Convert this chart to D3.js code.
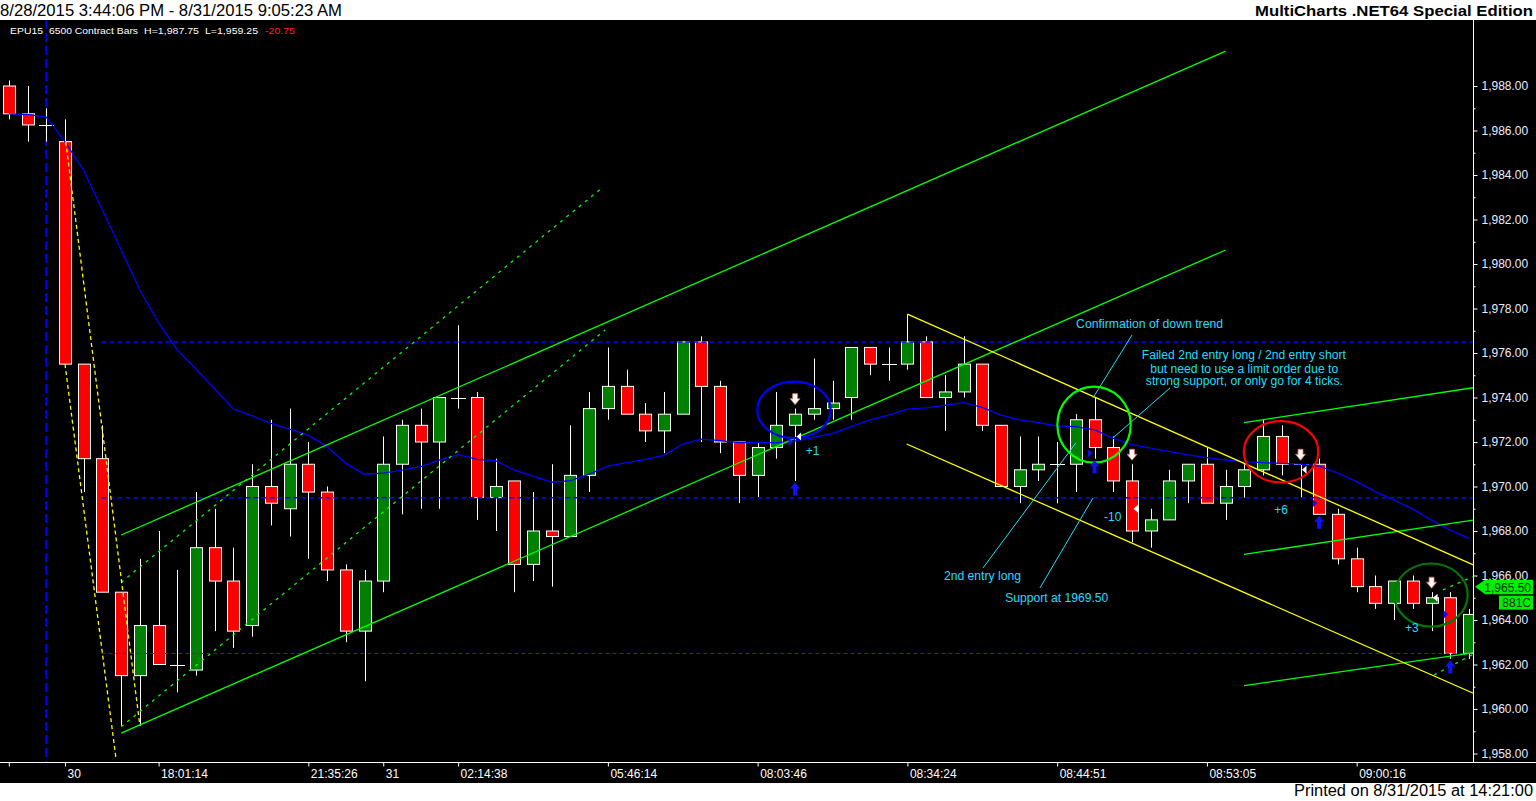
<!DOCTYPE html>
<html><head><meta charset="utf-8">
<script src="https://d3js.org/d3.v7.min.js"></script>
<style>
html,body{margin:0;padding:0;background:#fff;overflow:hidden}
svg{display:block}
text{font-family:"Liberation Sans",Arial,sans-serif}
</style></head>
<body>
<svg id="c" width="1536" height="801"></svg>
<script>
// ---------------- DATA ----------------
const barIdx = d3.range(79);
const openP  = [1988.0,1986.75,1986.25,1985.5,1975.5,1971.25,1965.25,1961.5,1963.75,1962.0,
  1961.75,1967.25,1965.75,1963.75,1970.0,1969.0,1971.0,1969.75,1966.25,1963.5,
  1965.75,1971.0,1972.75,1972.0,1974.0,1974.0,1969.5,1970.25,1966.5,1968.0,
  1967.75,1970.5,1973.5,1974.5,1973.25,1972.5,1973.25,1976.5,1974.5,1972.0,
  1970.5,1971.75,1972.75,1973.25,1973.5,1974.0,1976.25,1975.5,1975.5,1976.5,
  1974.0,1974.25,1975.5,1972.75,1970.0,1970.75,1971.0,1971.0,1973.0,1971.75,
  1970.25,1968.0,1968.5,1970.25,1971.0,1969.25,1970.0,1970.75,1972.25,1971.0,
  1971.0,1968.75,1966.75,1965.5,1964.75,1965.75,1964.75,1965.0,1962.5];
const highP  = [1988.25,1988.0,1987.0,1986.5,1975.5,1972.75,1965.25,1966.75,1968.0,1966.25,
  1969.75,1969.0,1967.25,1971.0,1973.0,1973.5,1972.0,1970.0,1966.5,1966.25,
  1972.25,1973.0,1973.5,1974.0,1977.25,1974.25,1971.25,1970.25,1969.75,1971.0,
  1972.75,1974.25,1976.25,1975.25,1973.75,1974.25,1976.5,1976.75,1974.75,1972.0,
  1972.0,1974.25,1973.5,1975.75,1974.75,1976.25,1976.25,1976.25,1977.75,1976.75,
  1975.0,1976.75,1975.5,1972.75,1972.25,1972.25,1972.0,1973.25,1974.0,1972.25,
  1971.0,1969.0,1970.75,1971.0,1971.75,1970.75,1971.0,1973.0,1972.75,1971.0,
  1971.25,1969.0,1967.25,1966.0,1965.75,1966.0,1965.25,1965.25,1964.5];
const lowP   = [1986.5,1985.5,1985.5,1975.5,1969.75,1965.25,1959.25,1959.25,1962.0,1960.75,
  1961.5,1963.5,1962.75,1963.25,1968.25,1967.75,1966.75,1965.75,1963.0,1961.25,
  1965.25,1968.75,1969.0,1969.0,1973.5,1968.5,1968.0,1965.25,1965.75,1965.5,
  1967.75,1969.75,1973.0,1973.25,1972.0,1971.5,1973.25,1972.0,1971.5,1969.25,
  1969.5,1971.25,1970.25,1973.0,1973.0,1973.0,1975.0,1974.75,1975.25,1974.0,
  1972.5,1974.0,1972.5,1970.0,1969.25,1970.25,1969.25,1969.75,1971.25,1969.75,
  1967.5,1967.25,1968.5,1969.25,1969.25,1968.5,1969.5,1970.5,1970.5,1969.5,
  1968.75,1966.5,1965.25,1964.5,1964.0,1964.5,1963.5,1962.25,1962.25];
const closeP = [1986.75,1986.25,1986.25,1975.5,1971.25,1965.25,1961.5,1963.75,1962.0,1962.0,
  1967.25,1965.75,1963.5,1970.0,1969.25,1971.0,1969.75,1966.25,1963.5,1965.75,
  1971.0,1972.75,1972.0,1974.0,1974.0,1969.5,1970.0,1966.5,1968.0,1967.75,
  1970.5,1973.5,1974.5,1973.25,1972.5,1973.25,1976.5,1974.5,1972.0,1970.5,
  1971.75,1972.75,1973.25,1973.5,1973.75,1976.25,1975.5,1975.5,1976.5,1974.0,
  1974.25,1975.5,1972.75,1970.0,1970.75,1971.0,1971.0,1973.0,1971.75,1970.25,
  1968.0,1968.5,1970.25,1971.0,1969.25,1970.0,1970.75,1972.25,1971.0,1971.0,
  1968.75,1966.75,1965.5,1964.75,1965.75,1964.75,1965.0,1962.5,1964.25];
const maP = [1986.75,1986.72,1986.6,1985.5,1984.2,1982.43,1980.63,1978.83,1977.35,1976.13,
  1975.28,1974.38,1973.48,1973.17,1972.84,1972.58,1972.31,1971.79,1971.04,1970.55,
  1970.6,1970.74,1970.89,1971.19,1971.43,1971.22,1971.16,1970.74,1970.47,1970.19,
  1970.26,1970.56,1970.92,1971.07,1971.22,1971.4,1971.91,1972.13,1972.06,1971.97,
  1971.97,1971.97,1972.04,1972.21,1972.39,1972.69,1972.99,1973.21,1973.48,1973.53,
  1973.65,1973.77,1973.56,1973.21,1972.99,1972.87,1972.72,1972.69,1972.54,1972.16,
  1971.88,1971.72,1971.57,1971.42,1971.3,1971.19,1971.12,1971.07,1971.04,1971.01,
  1970.92,1970.6,1970.22,1969.77,1969.39,1968.98,1968.49,1968.04,1967.67];

const tickIdx    = [0,3,8,16,20,24,32,40,48,56,64,72];
const tickLabels = ["","30","18:01:14","21:35:26","31","02:14:38","05:46:14","08:03:46","08:34:24","08:44:51","08:53:05","09:00:16"];
const priceTicks = d3.range(1958, 1989, 2);
const minorTicks = d3.range(1959, 1989, 2);

const levelPrices = [1976.5, 1969.5];
const dimLevelPrices = [1962.5];
const levelStartIdx = 5;
const sessionBreakIdx = 2;
const lastPrice = 1965.5;
const lastVolume = "881C";

// drawn objects, anchored in (bar index, price)
const greenLines   = [[6,1967.82,65,1989.57],[6,1958.92,65,1980.63],[65.98,1972.87,78.3,1974.45],[65.98,1966.95,78.3,1968.5],[65.98,1961.05,78.3,1962.53]];
const greenDashed  = [[6,1965.69,31.74,1983.46],[6,1959.2,31.85,1977.03],[76.13,1961.53,78.2,1962.45],[76.61,1965.35,78.2,1965.95]];
const yellowLines  = [[48.0,1977.75,78.3,1966.45],[47.96,1971.91,78.3,1960.68]];
const yellowDashed = [[3.04,1985.5,7.0,1959.25],[3.0,1975.5,5.72,1957.8]];
const cyanLines    = [[52.04,1966.34,57.0,1971.96],[55.08,1965.44,57.91,1969.48],[60.0,1976.81,57.91,1973.98],[62.03,1974.43,58.98,1972.18]];

const circleIdx   = [41.94, 57.97, 67.96, 75.97];
const circlePrice = [1973.44, 1972.78, 1971.56, 1965.12];
const circleRBars = [1.96, 1.96, 1.99, 1.96];
const circleRPts  = [1.27, 1.71, 1.38, 1.42];

const upArrowIdx   = [42, 58, 70, 77];
const downArrowIdx = [42, 60, 69, 76];
const blueTriIdx   = [42, 58, 70, 77];
const blueTriPrice = [1972.0, 1971.5, 1969.25, 1964.25];
const whiteTriIdx   = [42, 60, 69, 76];
const whiteTriPrice = [1972.25, 1969.0, 1970.75, 1965.0];

const profitText  = ["+1", "-10", "+6", "+3"];
const profitIdx   = [42.94, 58.97, 67.96, 74.95];
const profitPrice = [1971.42, 1968.45, 1968.76, 1963.47];

const noteText  = ["Confirmation of down trend","Failed 2nd entry long / 2nd entry short","but need to use a limit order due to","strong support, or only go for 4 ticks.","2nd entry long","Support at 1969.50"];
const noteIdx   = [60.94, 65.97, 65.99, 66.0, 52.01, 55.98];
const notePrice = [1977.11, 1975.72, 1975.09, 1974.56, 1965.8, 1964.82];
const noteLen   = [147, 204, 188, 197, 77, 103];

// ---------------- LAYOUT ----------------
const W = 1536, H = 801, plotTop = 20, plotBottom = 762, axisX = 1473, blackBottom = 783;
const x = d3.scaleLinear().domain([0, 78]).range([8.84, 1469.0]);
const y = d3.scaleLinear().domain([1958, 1988]).range([753.5, 86]);
const CYAN = "#22dcff";

const svg = d3.select("#c");
svg.append("rect").attr("width", W).attr("height", H).attr("fill", "#fff");
svg.append("rect").attr("x", 0).attr("y", plotTop).attr("width", W).attr("height", blackBottom - plotTop).attr("fill", "#000");

svg.append("text").attr("x", 0).attr("y", 16).attr("font-size", 17).attr("fill", "#000")
  .attr("textLength", 342).attr("lengthAdjust", "spacingAndGlyphs")
  .text("8/28/2015 3:44:06 PM - 8/31/2015 9:05:23 AM");
svg.append("text").attr("x", 1255).attr("y", 16).attr("font-size", 15).attr("font-weight", "bold").attr("fill", "#000")
  .attr("textLength", 278).attr("lengthAdjust", "spacingAndGlyphs")
  .text("MultiCharts .NET64 Special Edition");
svg.append("text").attr("x", 1294).attr("y", 796).attr("font-size", 16).attr("fill", "#000")
  .attr("textLength", 239).attr("lengthAdjust", "spacingAndGlyphs")
  .text("Printed on 8/31/2015 at 14:21:00");

svg.append("clipPath").attr("id", "plotclip").append("rect")
  .attr("x", 0).attr("y", plotTop).attr("width", axisX).attr("height", plotBottom - plotTop);
const g = svg.append("g").attr("clip-path", "url(#plotclip)");

// session break
g.append("line").attr("x1", x(sessionBreakIdx)).attr("x2", x(sessionBreakIdx))
  .attr("y1", plotTop).attr("y2", plotBottom).attr("stroke", "#0000ff").attr("stroke-width", 2)
  .attr("stroke-dasharray", "9,4");

// candles
const bars = barIdx.map(i => ({i, o: openP[i], h: highP[i], l: lowP[i], c: closeP[i]}));
const cg = g.append("g");
cg.selectAll("line.wick").data(bars).join("line").attr("class", "wick")
  .attr("x1", d => Math.round(x(d.i)) + 0.5).attr("x2", d => Math.round(x(d.i)) + 0.5)
  .attr("y1", d => y(d.h)).attr("y2", d => y(d.l)).attr("stroke", "#fff").attr("stroke-width", 1);
cg.selectAll("rect.body").data(bars.filter(d => d.o !== d.c)).join("rect").attr("class", "body")
  .attr("x", d => Math.round(x(d.i)) - 5.5).attr("width", 12)
  .attr("y", d => y(Math.max(d.o, d.c))).attr("height", d => Math.abs(y(d.o) - y(d.c)))
  .attr("fill", d => d.c > d.o ? "#008000" : "#ff0000").attr("stroke", "#fff").attr("stroke-width", 1);
cg.selectAll("line.doji").data(bars.filter(d => d.o === d.c)).join("line").attr("class", "doji")
  .attr("x1", d => Math.round(x(d.i)) - 7).attr("x2", d => Math.round(x(d.i)) + 8)
  .attr("y1", d => Math.round(y(d.c)) + 0.5).attr("y2", d => Math.round(y(d.c)) + 0.5)
  .attr("stroke", "#fff").attr("stroke-width", 1);

// level lines
g.selectAll("line.lvl").data(levelPrices).join("line").attr("class", "lvl")
  .attr("x1", x(levelStartIdx) - 1).attr("x2", axisX).attr("y1", d => y(d)).attr("y2", d => y(d))
  .attr("stroke", "#0000ff").attr("stroke-width", 1.5).attr("stroke-dasharray", "5,3");
g.selectAll("line.dlvl").data(dimLevelPrices).join("line").attr("class", "dlvl")
  .attr("x1", x(levelStartIdx) - 1).attr("x2", axisX).attr("y1", d => y(d)).attr("y2", d => y(d))
  .attr("stroke", "#30309a").attr("stroke-width", 1).attr("stroke-dasharray", "4,3");

// moving average
g.append("path").datum(barIdx)
  .attr("d", d3.line().x(i => x(i)).y(i => y(maP[i])))
  .attr("fill", "none").attr("stroke", "#0000ff").attr("stroke-width", 1.3);

// trend lines
function drawLines(arr, color, width, dash) {
  g.append("g").selectAll("line").data(arr).join("line")
    .attr("x1", d => x(d[0])).attr("y1", d => y(d[1])).attr("x2", d => x(d[2])).attr("y2", d => y(d[3]))
    .attr("stroke", color).attr("stroke-width", width).attr("stroke-dasharray", dash || null);
}
drawLines(greenLines, "#00ff00", 1.3);
drawLines(greenDashed, "#00ff00", 1.3, "3,5");
drawLines(yellowLines, "#ffff00", 1.3);
drawLines(yellowDashed, "#ffff00", 1.3, "4,3");
drawLines(cyanLines, CYAN, 1);

// circles
const circleColors = ["#0000ff", "#00ff00", "#ff0000", "#007800"];
g.append("g").selectAll("ellipse").data(circleIdx.map((v, k) => k)).join("ellipse")
  .attr("cx", k => x(circleIdx[k])).attr("cy", k => y(circlePrice[k]))
  .attr("rx", k => x(circleRBars[k]) - x(0)).attr("ry", k => y(1958) - y(1958 + circleRPts[k]))
  .attr("fill", "none").attr("stroke", (k) => circleColors[k]).attr("stroke-width", 2.2);

// trade markers
const mg = g.append("g");
mg.selectAll("path.up").data(upArrowIdx).join("path").attr("class", "up")
  .attr("d", i => { const cx = x(i), t = y(lowP[i]) + 1.5;
    return `M${cx},${t}L${cx+5},${t+6}L${cx+2},${t+6}L${cx+2},${t+13}L${cx-2},${t+13}L${cx-2},${t+6}L${cx-5},${t+6}Z`; })
  .attr("fill", "#1010ff");
mg.selectAll("path.down").data(downArrowIdx).join("path").attr("class", "down")
  .attr("d", i => { const cx = x(i), b = y(highP[i]) - 4;
    return `M${cx},${b}L${cx-5},${b-6}L${cx-2.5},${b-6}L${cx-2.5},${b-11}L${cx+2.5},${b-11}L${cx+2.5},${b-6}L${cx+5},${b-6}Z`; })
  .attr("fill", "#fff6f6").attr("stroke", "#d07070").attr("stroke-width", 0.8);
mg.selectAll("path.btri").data(blueTriIdx.map((v, k) => k)).join("path").attr("class", "btri")
  .attr("d", k => { const cx = x(blueTriIdx[k]), cy = y(blueTriPrice[k]);
    return `M${cx-6.5},${cy-4}L${cx-2},${cy}L${cx-6.5},${cy+4}Z`; })
  .attr("fill", "#1010ff");
mg.selectAll("path.wtri").data(whiteTriIdx.map((v, k) => k)).join("path").attr("class", "wtri")
  .attr("d", k => { const cx = x(whiteTriIdx[k]), cy = y(whiteTriPrice[k]);
    return `M${cx+6},${cy-4}L${cx+1.5},${cy}L${cx+6},${cy+4}Z`; })
  .attr("fill", "#ffffff");

mg.selectAll("text.pr").data(profitText.map((v, k) => k)).join("text").attr("class", "pr")
  .attr("x", k => x(profitIdx[k])).attr("y", k => y(profitPrice[k]))
  .attr("text-anchor", "middle").attr("font-size", 12).attr("fill", CYAN).text(k => profitText[k]);

g.append("g").selectAll("text").data(noteText.map((v, k) => k)).join("text")
  .attr("x", k => x(noteIdx[k]) - noteLen[k] / 2).attr("y", k => y(notePrice[k]))
  .attr("font-size", 12).attr("fill", CYAN)
  .attr("textLength", k => noteLen[k]).attr("lengthAdjust", "spacingAndGlyphs")
  .text(k => noteText[k]);

// ---------------- AXES ----------------
svg.append("line").attr("x1", 0).attr("x2", W).attr("y1", plotBottom + 0.5).attr("y2", plotBottom + 0.5)
  .attr("stroke", "#fff").attr("stroke-width", 1);
svg.append("line").attr("x1", axisX + 0.5).attr("x2", axisX + 0.5).attr("y1", plotTop).attr("y2", plotBottom)
  .attr("stroke", "#fff").attr("stroke-width", 1);

const yAx = svg.append("g").attr("transform", `translate(${axisX + 0.5},0)`)
  .call(d3.axisRight(y).tickValues(priceTicks).tickFormat(d3.format(",.2f")).tickSize(4).tickPadding(4));
const yMinor = svg.append("g").attr("transform", `translate(${axisX + 0.5},0)`)
  .call(d3.axisRight(y).tickValues(minorTicks).tickFormat("").tickSize(2));
[yAx, yMinor].forEach(a => {
  a.select(".domain").remove();
  a.selectAll("line").attr("stroke", "#fff");
  a.selectAll("text").attr("fill", "#e8ecff").attr("font-size", 12)
    .attr("font-family", '"Liberation Sans",Arial,sans-serif');
});

const xAx = svg.append("g").attr("transform", `translate(0,${plotBottom + 0.5})`)
  .call(d3.axisBottom(x).tickValues(tickIdx).tickFormat((d, k) => tickLabels[k]).tickSize(4).tickPadding(3));
xAx.select(".domain").remove();
xAx.selectAll("line").attr("stroke", "#fff");
xAx.selectAll("text").attr("fill", "#fff").attr("font-size", 12).attr("text-anchor", "start").attr("x", 2)
  .attr("font-family", '"Liberation Sans",Arial,sans-serif');

// last price marker
const ly = y(lastPrice);
svg.append("path").attr("d", `M${axisX + 2},${ly}L${axisX + 12},${ly - 7}L1533,${ly - 7}L1533,${ly + 7.5}L${axisX + 12},${ly + 7.5}Z`)
  .attr("fill", "#00ee00");
svg.append("text").attr("x", 1531).attr("y", ly + 5).attr("text-anchor", "end").attr("font-size", 12)
  .attr("fill", "#003000").text(d3.format(",.2f")(lastPrice));
svg.append("rect").attr("x", 1499).attr("y", ly + 9).attr("width", 34).attr("height", 14).attr("fill", "#00ee00");
svg.append("text").attr("x", 1531).attr("y", ly + 20.5).attr("text-anchor", "end").attr("font-size", 12)
  .attr("fill", "#003000").text(lastVolume);

// legend
const lg = svg.append("g").attr("font-size", 9);
const legendParts = [["EPU15", 10, 33, "#fff"], ["6500 Contract Bars", 49, 89, "#fff"],
  ["H=1,987.75", 144, 55, "#fff"], ["L=1,959.25", 205, 53, "#fff"], ["-20.75", 265, 30, "#ff2020"]];
legendParts.forEach(p => lg.append("text").attr("x", p[1]).attr("y", 33.5).attr("fill", p[3])
  .attr("textLength", p[2]).attr("lengthAdjust", "spacingAndGlyphs").text(p[0]));
</script>
</body></html>
